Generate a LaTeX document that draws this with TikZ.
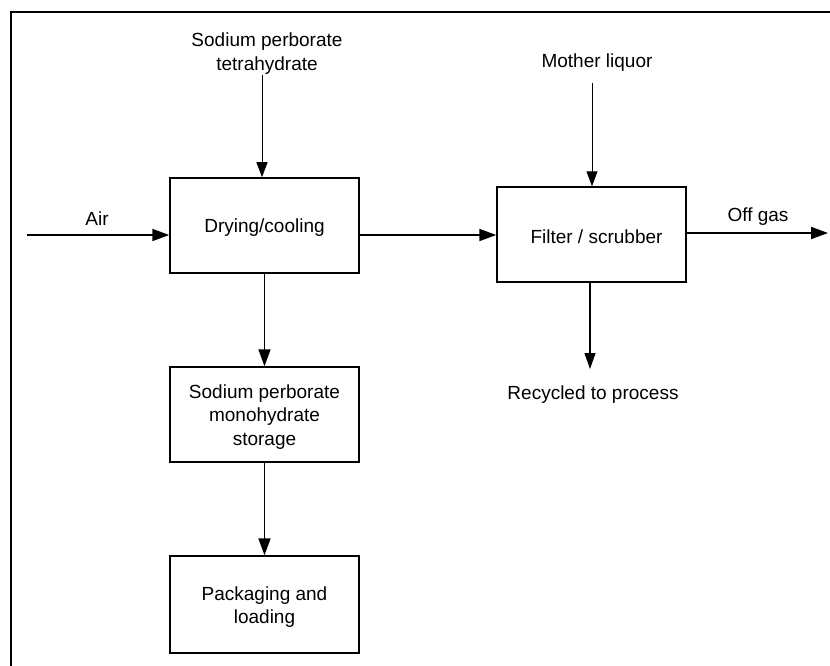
\documentclass[tikz,border=0pt]{standalone}
\usepackage{fontspec}
\setmainfont{Liberation Sans}
\usetikzlibrary{arrows.meta}
\begin{document}
\begin{tikzpicture}[x=1pt,y=-1pt,
  every node/.style={font=\fontsize{19}{23.5}\selectfont, inner sep=0pt},
  procbox/.style={draw=black, line width=1.5pt, minimum width=189pt, minimum height=95pt},
  boxtext/.style={align=center, yshift=-2.5pt},
  lbl/.style={align=center},
  flow/.style={line width=1.8pt, -{Triangle[length=17pt,width=12pt]}},
  thinflow/.style={line width=1pt, -{Triangle[length=15pt,width=11pt]}},
  midflow/.style={line width=1.3pt, -{Triangle[length=16pt,width=11pt]}}]
\useasboundingbox (0,0) rectangle (830,666);
\draw[line width=2.2pt] (11,667) -- (11,12) -- (831,12);

\node[procbox, label={[boxtext]center:Drying/cooling}] (dry) at (264.5,225.5) {};
\node[procbox, label={[boxtext, xshift=5pt]center:Filter / scrubber}] (filt) at (591.5,234.5) {};
\node[procbox, label={[boxtext]center:Sodium perborate\\monohydrate\\storage}] (stor) at (264.5,414.5) {};
\node[procbox, minimum height=97pt, label={[boxtext]center:Packaging and\\loading}] (pack) at (264.5,604.5) {};

\node[lbl] (tetra) at (267,53.5) {Sodium perborate\\tetrahydrate};
\node[lbl] (mother) at (597,63) {Mother liquor};
\node[lbl] (air) at (97,219) {Air};
\node[lbl] (offgas) at (758,217) {Off gas};
\node[lbl] (recyc) at (593,394.5) {Recycled to process};

\coordinate (airL) at (27,235);
\coordinate (tetraB) at (262,75);
\coordinate (motherB) at (592,83);
\coordinate (offE) at (828,233);
\coordinate (recE) at (590,369);

\draw[flow] (airL) -- (airL -| dry.west);
\draw[flow] ([yshift=-9.5pt]dry.east) -- ([yshift=-9.5pt]dry.east -| filt.west);
\draw[flow] ([yshift=1.5pt]filt.east) -- (offE);
\draw[thinflow] (tetraB) -- (tetraB |- dry.north);
\draw[thinflow] (motherB) -- (motherB |- filt.north);
\draw[flow] (dry.south) -- (stor.north);
\draw[flow] (stor.south) -- (pack.north);
\draw[midflow] (recE |- filt.south) -- (recE);
\end{tikzpicture}
\end{document}
